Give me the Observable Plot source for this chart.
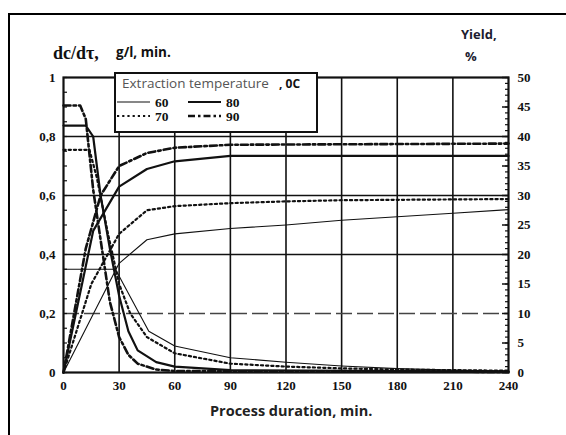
<!DOCTYPE html>
<html>
<head>
<meta charset="utf-8">
<script src="https://cdn.jsdelivr.net/npm/d3@7"></script>
<script src="https://cdn.jsdelivr.net/npm/@observablehq/plot@0.6"></script>
<style>
  body { margin: 0; background: #fff; }
  #wrap { position: relative; width: 566px; height: 435px; overflow: hidden; background: #fff; }
  #chart { position: absolute; left: 0; top: 0; }
  #border { position: absolute; left: 8px; top: 13px; width: 700px; height: 600px; border: 2px solid #000; box-sizing: border-box; pointer-events: none; }
  .lbl { position: absolute; white-space: nowrap; line-height: 1; color: #111; }
  .serif { font-family: "Liberation Serif", "DejaVu Serif", serif; font-weight: bold; }
  .sans { font-family: "Open Sans", "DejaVu Sans", sans-serif; font-weight: bold; }
  #legend { position: absolute; left: 114px; top: 72px; }
</style>
</head>
<body>
<div id="wrap">
  <div id="chart"></div>
  <div id="border"></div>
  <div class="lbl serif" style="left:53px;top:44px;font-size:18px;">dc/dτ,</div>
  <div class="lbl sans" style="left:116px;top:46px;font-size:13.5px;">g/l, min.</div>
  <div class="lbl sans" style="left:461px;top:28px;font-size:13px;color:#1c1c30;">Yield,</div>
  <div class="lbl sans" style="left:465px;top:50px;font-size:13px;color:#1c1c30;">%</div>
  <div class="lbl sans" style="left:210px;top:404px;font-size:14.5px;color:#222;">Process duration, min.</div>
  <div id="legend"></div>
</div>
<script>
// ---- data ----
const temps = [60, 70, 80, 90];

// dc/dτ (g/l·min) vs process duration (min)
const dcT60 = [0, 28, 46, 60, 90, 120, 150, 180, 210, 240];
const dcV60 = [0.35, 0.35, 0.14, 0.09, 0.05, 0.035, 0.022, 0.013, 0.008, 0.005];
const dcT70 = [0, 14, 18, 24, 30, 36, 45, 60, 90, 120, 150, 180, 240];
const dcV70 = [0.755, 0.755, 0.66, 0.47, 0.3, 0.2, 0.12, 0.065, 0.03, 0.02, 0.014, 0.01, 0.006];
const dcT80 = [0, 12, 16, 20, 25, 30, 35, 40, 50, 60, 90, 240];
const dcV80 = [0.837, 0.837, 0.8, 0.6, 0.42, 0.26, 0.14, 0.075, 0.035, 0.02, 0.008, 0.003];
const dcT90 = [0, 9, 12, 16, 20, 25, 30, 35, 40, 50, 60, 240];
const dcV90 = [0.905, 0.905, 0.86, 0.62, 0.45, 0.24, 0.12, 0.06, 0.03, 0.01, 0.005, 0.002];

// Yield (%) vs process duration (min)
const yT60 = [0, 30, 45, 60, 90, 120, 150, 180, 210, 240];
const yV60 = [0, 18.5, 22.5, 23.5, 24.4, 25, 25.8, 26.4, 27, 27.6];
const yT70 = [0, 15, 30, 45, 60, 90, 120, 150, 240];
const yV70 = [0, 15, 23.5, 27.5, 28.2, 28.7, 29, 29.2, 29.4];
const yT80 = [0, 16, 30, 45, 60, 90, 240];
const yV80 = [0, 24, 31.5, 34.5, 35.8, 36.7, 36.7];
const yT90 = [0, 12, 20, 30, 45, 60, 90, 240];
const yV90 = [0, 21, 30, 35, 37.2, 38.1, 38.6, 38.8];

// axes
const xTicks = [0, 30, 60, 90, 120, 150, 180, 210, 240];
const xGrid = [30, 60, 90, 120, 150, 180, 210];
const leftTicks = [0, 0.2, 0.4, 0.6, 0.8, 1];
const leftTickLabels = ["0", "0,2", "0,4", "0,6", "0,8", "1"];
const rightTicks = [0, 5, 10, 15, 20, 25, 30, 35, 40, 45, 50];
const yieldMax = 50; // right axis 0..50 % spans the left axis 0..1
const solidGridY = [0.4, 0.6, 0.8];
const dashedGridY = [0.2];

// ---- build table ----
const dcT = {60: dcT60, 70: dcT70, 80: dcT80, 90: dcT90};
const dcV = {60: dcV60, 70: dcV70, 80: dcV80, 90: dcV90};
const yT = {60: yT60, 70: yT70, 80: yT80, 90: yT90};
const yV = {60: yV60, 70: yV70, 80: yV80, 90: yV90};
const rows = [];
for (const T of temps) {
  dcT[T].forEach((t, i) => rows.push({T, kind: "dc", t, v: dcV[T][i]}));
  yT[T].forEach((t, i) => rows.push({T, kind: "yield", t, v: yV[T][i] / yieldMax}));
}

const style = {
  60: {strokeWidth: 1.1, strokeDasharray: null},
  70: {strokeWidth: 2.2, strokeDasharray: "2.2,3"},
  80: {strokeWidth: 2.2, strokeDasharray: null},
  90: {strokeWidth: 2.6, strokeDasharray: "7,3,2.5,3"}
};

const tickFont = {fontSize: 13, fontWeight: "bold", fontFamily: "Liberation Serif, DejaVu Serif, serif"};

const leftMinor = d3.range(0, 1.0001, 0.05);
const rightMinor = d3.range(0, 51, 1).map(d => d / yieldMax);

const chart = Plot.plot({
  width: 566,
  height: 435,
  marginLeft: 63,
  marginRight: 58,
  marginTop: 77,
  marginBottom: 63,
  style: {background: "transparent", color: "#111"},
  x: {domain: [0, 240]},
  y: {domain: [0, 1]},
  marks: [
    Plot.ruleX(xGrid, {stroke: "#111", strokeWidth: 1.6}),
    Plot.ruleY(solidGridY, {stroke: "#111", strokeWidth: 1.6}),
    Plot.ruleY(dashedGridY, {stroke: "#444", strokeWidth: 1.6, strokeDasharray: "16,5"}),
    ...temps.map(T => Plot.line(rows.filter(d => d.T === T), {
      x: "t", y: "v", z: "kind", stroke: "#111",
      strokeWidth: style[T].strokeWidth, strokeDasharray: style[T].strokeDasharray
    })),
    Plot.frame({stroke: "#111", strokeWidth: 2.2}),
    Plot.axisX(xTicks, {anchor: "bottom", tickSize: 0, tickPadding: 8, label: null, ...tickFont}),
    Plot.axisY(leftTicks, {anchor: "left", tickSize: 0, tickPadding: 8, label: null,
      tickFormat: d => leftTickLabels[leftTicks.indexOf(d)], ...tickFont}),
    Plot.axisY(leftMinor, {anchor: "left", tickSize: -4, text: null, label: null, strokeWidth: 1.2}),
    Plot.axisY(rightTicks.map(d => d / yieldMax), {anchor: "right", tickSize: 0, tickPadding: 9, label: null,
      tickFormat: d => String(Math.round(d * yieldMax)), ...tickFont}),
    Plot.axisY(rightMinor, {anchor: "right", tickSize: -4, text: null, label: null, strokeWidth: 1.2}),
    Plot.axisY(rightTicks.map(d => d / yieldMax), {anchor: "right", tickSize: -7, text: null, label: null, strokeWidth: 1.5})
  ]
});
document.getElementById("chart").appendChild(chart);

// ---- legend ----
const lg = d3.select("#legend").append("svg")
  .attr("width", 204).attr("height", 61)
  .style("display", "block");
lg.append("rect").attr("x", 1).attr("y", 1).attr("width", 202).attr("height", 59)
  .attr("fill", "#fff").attr("stroke", "#111").attr("stroke-width", 2);
lg.append("text").attr("x", 8).attr("y", 16)
  .attr("font-family", "Open Sans, DejaVu Sans, sans-serif").attr("font-size", 13.5)
  .attr("fill", "#555").text("Extraction temperature");
lg.append("text").attr("x", 165).attr("y", 16)
  .attr("font-family", "Open Sans, DejaVu Sans, sans-serif").attr("font-size", 12).attr("font-weight", "bold")
  .attr("fill", "#111").text(", 0C");
const pos = {60: [3, 30], 80: [74, 30], 70: [3, 44], 90: [74, 44]};
for (const T of temps) {
  const [x, y] = pos[T];
  lg.append("line").attr("x1", x).attr("x2", x + 33).attr("y1", y).attr("y2", y)
    .attr("stroke", "#111").attr("stroke-width", style[T].strokeWidth)
    .attr("stroke-dasharray", style[T].strokeDasharray);
  lg.append("text").attr("x", x + 38).attr("y", y + 5)
    .attr("font-family", "Liberation Serif, DejaVu Serif, serif").attr("font-weight", "bold")
    .attr("font-size", 13.5).attr("fill", "#111").text(String(T));
}
</script>
</body>
</html>
